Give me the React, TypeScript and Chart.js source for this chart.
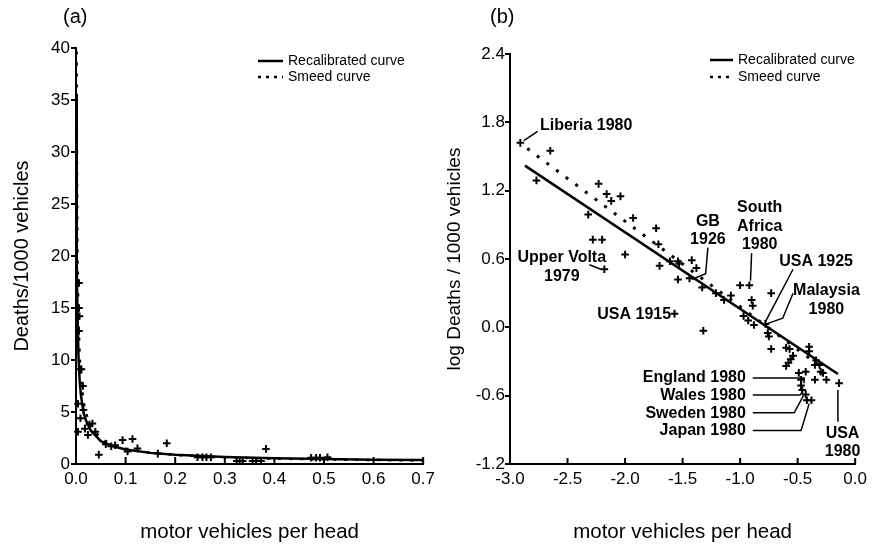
import React, { useEffect, useRef } from "react";
import { Chart, registerables } from "chart.js";

Chart.register(...registerables);

const FONT = "'Liberation Sans', Arial, Helvetica, sans-serif";

// ---------- Panel (a): raw scale ----------
const aXTicks = [0, 0.1, 0.2, 0.3, 0.4, 0.5, 0.6, 0.7];
const aYTicks = [0, 5, 10, 15, 20, 25, 30, 35, 40];

const aPointX = [
  0.002, 0.006, 0.006, 0.007, 0.006, 0.008, 0.011, 0.004, 0.014, 0.015, 0.009, 0.004,
  0.018, 0.027, 0.033, 0.024, 0.039, 0.046, 0.06, 0.071, 0.079, 0.094, 0.104, 0.114,
  0.124, 0.165, 0.183, 0.245, 0.255, 0.263, 0.272, 0.324, 0.33, 0.336, 0.356, 0.363,
  0.373, 0.383, 0.474, 0.484, 0.492, 0.507,
];
const aPointY = [
  40.6, 17.4, 15.0, 14.2, 12.8, 9.1, 9.1, 5.8, 7.5, 5.2, 4.4, 3.1,
  3.4, 3.8, 3.9, 2.8, 3.1, 0.9, 1.9, 1.7, 1.8, 2.3, 1.2, 2.4,
  1.5, 1.0, 2.0, 0.65, 0.65, 0.65, 0.65, 0.3, 0.3, 0.3, 0.3, 0.3,
  0.3, 1.45, 0.6, 0.6, 0.6, 0.65,
];

const aRecalX = [0.0008, 0.001, 0.0015, 0.002, 0.003, 0.005, 0.0075, 0.01, 0.015, 0.02, 0.03, 0.05, 0.075, 0.1, 0.15, 0.2, 0.3, 0.4, 0.5, 0.6, 0.7];
const aRecalY = [35.6, 30.1, 23.0, 19.2, 14.7, 10.4, 7.9, 6.6, 5.0, 4.2, 3.2, 2.2, 1.7, 1.4, 1.07, 0.88, 0.67, 0.55, 0.48, 0.42, 0.38];

const aSmeedX = [0.001, 0.0015, 0.002, 0.003, 0.005, 0.0075, 0.01, 0.015, 0.02, 0.03, 0.05, 0.075, 0.1, 0.15, 0.2, 0.3, 0.4, 0.5, 0.6, 0.7];
const aSmeedY = [46, 34, 27.5, 20, 13.8, 10.2, 8.2, 6.0, 4.9, 3.6, 2.45, 1.8, 1.46, 1.08, 0.87, 0.64, 0.52, 0.44, 0.38, 0.34];

// ---------- Panel (b): log scale ----------
const bXTicks = [-3.0, -2.5, -2.0, -1.5, -1.0, -0.5, 0.0];
const bYTicks = [-1.2, -0.6, 0.0, 0.6, 1.2, 1.8, 2.4];

const bPointX = [
  -2.91, -2.65, -2.77, -2.32, -2.23, -2.16, -2.12, -2.04, -2.28, -2.20, -1.93, -2.18,
  -2.00, -1.73, -1.71, -1.70, -1.61, -1.54, -1.53, -1.42, -1.38, -1.54, -1.44, -1.33,
  -1.21, -1.14, -1.08, -1.57, -1.32, -1.00, -0.92, -0.90, -0.89, -0.73, -0.97, -0.93,
  -0.88, -0.78, -0.76, -0.75, -0.73, -0.60, -0.57, -0.60, -0.58, -0.56, -0.54, -0.49,
  -0.43, -0.40, -0.40, -0.34, -0.31, -0.35, -0.30, -0.28, -0.35, -0.25, -0.14, -0.47,
  -0.47, -0.46, -0.43, -0.42, -0.38,
];
const bPointY = [
  1.62, 1.55, 1.29, 0.99, 1.26, 1.17, 1.11, 1.15, 0.77, 0.77, 0.96, 0.51,
  0.64, 0.87, 0.73, 0.54, 0.58, 0.58, 0.56, 0.59, 0.52, 0.42, 0.43, 0.35,
  0.30, 0.24, 0.28, 0.12, -0.03, 0.37, 0.37, 0.24, 0.19, 0.30, 0.10, 0.06,
  0.02, 0.03, -0.05, -0.08, -0.19, -0.18, -0.19, -0.34, -0.31, -0.28, -0.25, -0.40,
  -0.39, -0.17, -0.21, -0.29, -0.33, -0.33, -0.39, -0.40, -0.46, -0.46, -0.49, -0.46,
  -0.51, -0.55, -0.59, -0.64, -0.64,
];

const bRecalX = [-2.87, -0.15];
const bRecalY = [1.42, -0.41];
const bSmeedX = [-2.85, -0.28];
const bSmeedY = [1.57, -0.36];

const legendLabels = ["Recalibrated curve", "Smeed curve"];

// Annotations of panel (b), anchored in data coordinates
const bLabels: { lines: string[]; x: number; y: number; align: CanvasTextAlign }[] = [
  { lines: ["Liberia 1980"], x: -2.74, y: 1.77, align: "left" },
  { lines: ["Upper Volta", "1979"], x: -2.55, y: 0.61, align: "center" },
  { lines: ["GB", "1926"], x: -1.28, y: 0.93, align: "center" },
  { lines: ["South", "Africa", "1980"], x: -0.83, y: 1.05, align: "center" },
  { lines: ["USA 1925"], x: -0.34, y: 0.58, align: "center" },
  { lines: ["Malaysia", "1980"], x: -0.25, y: 0.32, align: "center" },
  { lines: ["USA 1915"], x: -1.6, y: 0.11, align: "right" },
  { lines: ["England 1980"], x: -0.95, y: -0.445, align: "right" },
  { lines: ["Wales 1980"], x: -0.95, y: -0.6, align: "right" },
  { lines: ["Sweden 1980"], x: -0.95, y: -0.755, align: "right" },
  { lines: ["Japan 1980"], x: -0.95, y: -0.91, align: "right" },
  { lines: ["USA", "1980"], x: -0.11, y: -0.93, align: "center" },
];

const bLeaders: number[][][] = [
  [[-2.76, 1.72], [-2.88, 1.64]],
  [[-2.31, 0.55], [-2.21, 0.51]],
  [[-1.28, 0.7], [-1.3, 0.47], [-1.42, 0.42]],
  [[-0.9, 0.65], [-0.91, 0.41]],
  [[-0.54, 0.51], [-0.78, 0.05]],
  [[-0.54, 0.3], [-0.63, 0.08], [-0.77, 0.03]],
  [[-0.89, -0.445], [-0.445, -0.445], [-0.445, -0.49]],
  [[-0.89, -0.595], [-0.48, -0.595], [-0.46, -0.57]],
  [[-0.89, -0.75], [-0.53, -0.75], [-0.45, -0.6]],
  [[-0.89, -0.905], [-0.47, -0.905], [-0.4, -0.67]],
  [[-0.15, -0.55], [-0.15, -0.83]],
];

const zip = (xs: number[], ys: number[]) => xs.map((x, i) => ({ x, y: ys[i] }));
const fmt = (v: number, d: number) => (Math.abs(v) < 1e-9 ? 0 : v).toFixed(d);

function drawInwardTicks(chart: any, len: number) {
  const s = chart.scales.x;
  const ctx = chart.ctx;
  const b = chart.chartArea.bottom;
  ctx.save();
  ctx.strokeStyle = "#000";
  ctx.lineWidth = 2;
  s.ticks.forEach((t: any) => {
    const px = s.getPixelForValue(t.value);
    ctx.beginPath();
    ctx.moveTo(px, b);
    ctx.lineTo(px, b - len);
    ctx.stroke();
  });
  ctx.restore();
}

function drawLegend(ctx: CanvasRenderingContext2D, x0: number, x1: number, tx: number, y1: number, y2: number) {
  ctx.save();
  ctx.strokeStyle = "#000";
  ctx.lineWidth = 2.5;
  ctx.beginPath();
  ctx.moveTo(x0, y1);
  ctx.lineTo(x1, y1);
  ctx.stroke();
  ctx.setLineDash([3, 5]);
  ctx.beginPath();
  ctx.moveTo(x0, y2);
  ctx.lineTo(x1, y2);
  ctx.stroke();
  ctx.setLineDash([]);
  ctx.font = `14px ${FONT}`;
  ctx.fillStyle = "#000";
  ctx.textBaseline = "middle";
  ctx.textAlign = "left";
  ctx.fillText(legendLabels[0], tx, y1);
  ctx.fillText(legendLabels[1], tx, y2);
  ctx.restore();
}

function drawPanelTag(ctx: CanvasRenderingContext2D, text: string, x: number, y: number) {
  ctx.save();
  ctx.font = `20px ${FONT}`;
  ctx.fillStyle = "#000";
  ctx.textBaseline = "middle";
  ctx.textAlign = "left";
  ctx.fillText(text, x, y);
  ctx.restore();
}

const tickFont = { family: FONT, size: 17 };
const plusStyle = {
  pointStyle: "cross",
  pointRadius: 3.8,
  pointHoverRadius: 3.8,
  pointBorderWidth: 2,
  borderColor: "#000",
  backgroundColor: "#000",
  showLine: false,
  clip: false,
};

function baseScales(opts: {
  xTicks: number[]; yTicks: number[]; xMin: number; xMax: number; yMin: number; yMax: number;
  yWidth: number; xDec: number; yDec: number; yTitle: string; yTitleSize: number; yTitlePad: number; yLabelPad: number;
}) {
  return {
    x: {
      type: "linear",
      min: opts.xMin,
      max: opts.xMax,
      afterBuildTicks: (s: any) => { s.ticks = opts.xTicks.map((v) => ({ value: v })); },
      afterFit: (s: any) => { s.height = 87; },
      ticks: { font: tickFont, color: "#000", padding: 5, maxRotation: 0, autoSkip: false, callback: (v: any) => fmt(Number(v), opts.xDec) },
      grid: { display: false, drawTicks: false },
      border: { display: true, color: "#000", width: 2 },
      title: { display: true, text: "motor vehicles per head", color: "#000", font: { family: FONT, size: 20.5 }, padding: { top: 0, bottom: 6 } },
    },
    y: {
      type: "linear",
      min: opts.yMin,
      max: opts.yMax,
      afterBuildTicks: (s: any) => { s.ticks = opts.yTicks.map((v) => ({ value: v })); },
      afterFit: (s: any) => { s.width = opts.yWidth; },
      ticks: { font: tickFont, color: "#000", padding: opts.yLabelPad, autoSkip: false, callback: (v: any) => fmt(Number(v), opts.yDec) },
      grid: { drawOnChartArea: false, drawTicks: true, tickLength: 5, color: "#000", lineWidth: 2 },
      border: { display: true, color: "#000", width: 2 },
      title: { display: true, text: opts.yTitle, color: "#000", font: { family: FONT, size: opts.yTitleSize }, padding: { top: opts.yTitlePad, bottom: 0 } },
    },
  };
}

export default function App() {
  const refA = useRef<HTMLCanvasElement>(null);
  const refB = useRef<HTMLCanvasElement>(null);

  useEffect(() => {
    const chartA = new Chart(refA.current as HTMLCanvasElement, {
      type: "scatter",
      data: {
        datasets: [
          { label: legendLabels[0], data: zip(aRecalX, aRecalY), showLine: true, borderColor: "#000", borderWidth: 2.5, pointRadius: 0, fill: false } as any,
          { label: legendLabels[1], data: zip(aSmeedX, aSmeedY), showLine: true, borderColor: "#000", borderWidth: 2.5, borderDash: [3, 8], pointRadius: 0, fill: false } as any,
          { label: "data", data: zip(aPointX, aPointY), ...plusStyle } as any,
        ],
      },
      options: {
        responsive: false,
        animation: false,
        layout: { padding: { left: 0, top: 48, right: 16, bottom: 0 } },
        plugins: { legend: { display: false }, tooltip: { enabled: false } },
        scales: baseScales({
          xTicks: aXTicks, yTicks: aYTicks, xMin: 0, xMax: 0.7, yMin: 0, yMax: 40, yWidth: 76,
          xDec: 1, yDec: 0, yTitle: "Deaths/1000 vehicles", yTitleSize: 20, yTitlePad: 10, yLabelPad: 1,
        }) as any,
      },
      plugins: [
        {
          id: "decorA",
          afterDraw(chart: any) {
            drawInwardTicks(chart, 7);
            drawLegend(chart.ctx, 258, 283, 288, 61, 77);
            drawPanelTag(chart.ctx, "(a)", 63, 17);
          },
        },
      ],
    });

    const chartB = new Chart(refB.current as HTMLCanvasElement, {
      type: "scatter",
      data: {
        datasets: [
          { label: legendLabels[0], data: zip(bRecalX, bRecalY), showLine: true, borderColor: "#000", borderWidth: 2.5, pointRadius: 0, fill: false } as any,
          { label: legendLabels[1], data: zip(bSmeedX, bSmeedY), showLine: true, borderColor: "#000", borderWidth: 3, borderDash: [3, 9], pointRadius: 0, fill: false } as any,
          { label: "data", data: zip(bPointX, bPointY), ...plusStyle } as any,
        ],
      },
      options: {
        responsive: false,
        animation: false,
        layout: { padding: { left: 0, top: 54, right: 16, bottom: 0 } },
        plugins: { legend: { display: false }, tooltip: { enabled: false } },
        scales: baseScales({
          xTicks: bXTicks, yTicks: bYTicks, xMin: -3, xMax: 0, yMin: -1.2, yMax: 2.4, yWidth: 70,
          xDec: 1, yDec: 1, yTitle: "log Deaths / 1000 vehicles", yTitleSize: 19, yTitlePad: 3, yLabelPad: 0,
        }) as any,
      },
      plugins: [
        {
          id: "decorB",
          afterDraw(chart: any) {
            const ctx = chart.ctx as CanvasRenderingContext2D;
            const xs = chart.scales.x;
            const ys = chart.scales.y;
            drawInwardTicks(chart, 6);
            drawLegend(ctx, 270, 293, 298, 60, 77);
            drawPanelTag(ctx, "(b)", 50, 17);
            ctx.save();
            ctx.strokeStyle = "#000";
            ctx.lineWidth = 1.5;
            bLeaders.forEach((path) => {
              ctx.beginPath();
              path.forEach(([x, y], i) => {
                const px = xs.getPixelForValue(x);
                const py = ys.getPixelForValue(y);
                if (i === 0) ctx.moveTo(px, py);
                else ctx.lineTo(px, py);
              });
              ctx.stroke();
            });
            ctx.font = `bold 16px ${FONT}`;
            ctx.fillStyle = "#000";
            ctx.textBaseline = "middle";
            bLabels.forEach((a) => {
              const px = xs.getPixelForValue(a.x);
              const py = ys.getPixelForValue(a.y);
              ctx.textAlign = a.align;
              a.lines.forEach((l, i) => ctx.fillText(l, px, py + i * 18.4));
            });
            ctx.restore();
          },
        },
      ],
    });

    return () => {
      chartA.destroy();
      chartB.destroy();
    };
  }, []);

  return (
    <div style={{ position: "fixed", left: 0, top: 0, width: 872, height: 551, background: "#fff" }}>
      <div style={{ position: "absolute", left: 0, top: 0, width: 440, height: 551 }}>
        <canvas ref={refA} width={440} height={551} style={{ width: 440, height: 551, display: "block" }} />
      </div>
      <div style={{ position: "absolute", left: 440, top: 0, width: 432, height: 551 }}>
        <canvas ref={refB} width={432} height={551} style={{ width: 432, height: 551, display: "block" }} />
      </div>
    </div>
  );
}
